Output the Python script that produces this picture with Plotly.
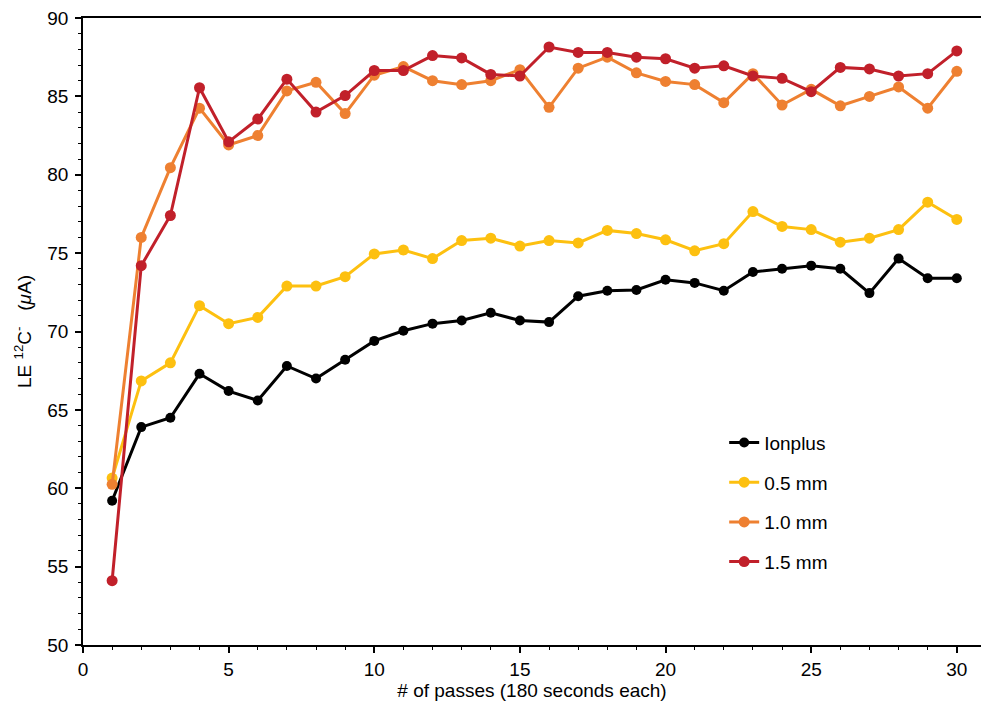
import plotly.graph_objects as go

passes = list(range(1, 31))

ionplus = [59.2, 63.9, 64.5, 67.3, 66.2, 65.6, 67.8, 67.0, 68.2, 69.4,
           70.05, 70.5, 70.7, 71.2, 70.7, 70.6, 72.25, 72.6, 72.65, 73.3,
           73.1, 72.6, 73.8, 74.0, 74.2, 74.0, 72.45, 74.65, 73.4, 73.4]
mm05 = [60.65, 66.85, 68.0, 71.65, 70.5, 70.9, 72.9, 72.9, 73.5, 74.95,
        75.2, 74.65, 75.8, 75.95, 75.45, 75.8, 75.65, 76.45, 76.25, 75.85,
        75.15, 75.6, 77.65, 76.7, 76.5, 75.7, 75.95, 76.5, 78.25, 77.15]
mm10 = [60.25, 76.0, 80.45, 84.25, 81.9, 82.5, 85.35, 85.9, 83.9, 86.35,
        86.9, 86.0, 85.75, 86.0, 86.7, 84.3, 86.8, 87.5, 86.5, 85.95,
        85.75, 84.6, 86.45, 84.45, 85.45, 84.4, 85.0, 85.6, 84.25, 86.6]
mm15 = [54.1, 74.2, 77.4, 85.55, 82.1, 83.55, 86.1, 84.0, 85.05, 86.65,
        86.65, 87.6, 87.45, 86.4, 86.3, 88.15, 87.8, 87.8, 87.5, 87.4,
        86.8, 86.95, 86.3, 86.15, 85.3, 86.85, 86.75, 86.3, 86.45, 87.9]

series_names = ["Ionplus", "0.5 mm", "1.0 mm", "1.5 mm"]
series_values = [ionplus, mm05, mm10, mm15]
series_colors = ["#000000", "#FDC010", "#EE8031", "#C1202A"]
marker_sizes = [10, 11, 11, 11]

x_ticks = [0, 5, 10, 15, 20, 25, 30]
y_ticks = [50, 55, 60, 65, 70, 75, 80, 85, 90]

FONT = "Liberation Sans, Arial, Helvetica, sans-serif"

fig = go.Figure()
for name, vals, col, ms in zip(series_names, series_values, series_colors, marker_sizes):
    fig.add_trace(go.Scatter(
        x=passes, y=vals, name=name, mode="lines+markers",
        line=dict(color=col, width=3),
        marker=dict(color=col, size=ms),
        legendgroup=name,
    ))

fig.update_layout(
    width=981, height=706,
    margin=dict(l=83, r=0, t=18, b=61),
    plot_bgcolor="white", paper_bgcolor="white",
    font=dict(family=FONT, color="black"),
    showlegend=True,
    legend=dict(
        x=0.714, y=0.353, xanchor="left", yanchor="top",
        font=dict(size=19, family=FONT, color="black"),
        bgcolor="rgba(0,0,0,0)", tracegroupgap=12,
        itemwidth=30,
    ),
    xaxis=dict(
        range=[0, 30.83], tickvals=x_ticks, ticktext=[str(t) for t in x_ticks],
        showgrid=False, zeroline=False, automargin=False,
        showline=True, linecolor="black", linewidth=1.5, mirror=True,
        ticks="outside", ticklen=6, tickwidth=1.5, tickcolor="black",
        tickfont=dict(size=19, family=FONT),
        minor=dict(dtick=1, ticks="outside", ticklen=3, tickwidth=1, tickcolor="black", showgrid=False),
        title=dict(text="# of passes (180 seconds each)", font=dict(size=19, family=FONT), standoff=5),
    ),
    yaxis=dict(
        range=[50, 90], tickvals=y_ticks, ticktext=[str(t) for t in y_ticks],
        showgrid=False, zeroline=False, automargin=False,
        showline=True, linecolor="black", linewidth=1.5,
        ticks="outside", ticklen=6, tickwidth=1.5, tickcolor="black",
        tickfont=dict(size=19, family=FONT),
        ticklabelstandoff=3,
        minor=dict(dtick=1, ticks="outside", ticklen=3, tickwidth=1, tickcolor="black", showgrid=False),
        title=dict(text="LE <sup>12</sup>C<sup>-</sup>   (<i>μ</i>A)", font=dict(size=19, family=FONT), standoff=11),
    ),
)

fig.write_html(
    "out.html",
    config={"displayModeBar": False},
    post_script="document.body.style.margin='0';document.body.style.overflow='hidden';",
)
